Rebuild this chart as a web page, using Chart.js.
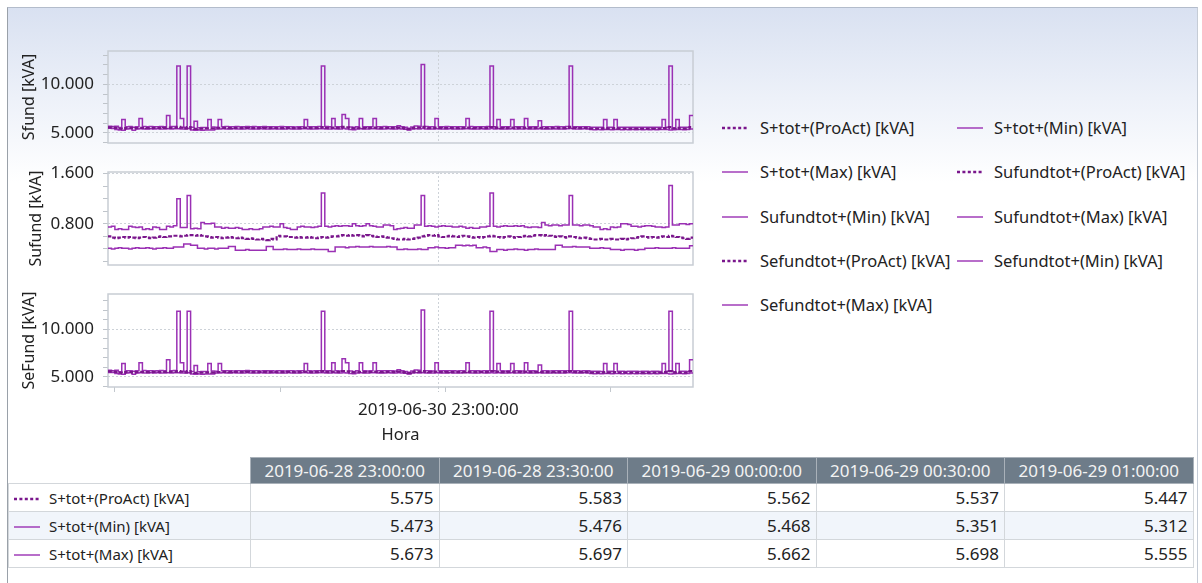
<!DOCTYPE html>
<html lang="es">
<head>
<meta charset="utf-8">
<script src="https://cdn.jsdelivr.net/npm/chart.js"></script>
<style>
    html, body { margin: 0; padding: 0; background: #fff; }
    body { width: 1202px; height: 583px; overflow: hidden; position: relative;
           font-family: "Noto Sans", "Open Sans", sans-serif; color: #222; }
    .frame { position: absolute; left: 7px; top: 7px; width: 1189px; height: 600px;
             border-left: 1px solid #9aa1a9; border-top: 1px solid #b3bccb; border-right: 1px solid #c5ccd6;
             background: linear-gradient(#d9e1f1 0px, #edf1f9 90px, #ffffff 175px); }
    canvas { position: absolute; }
    .leg { position: absolute; font-size: 16.5px; line-height: 20px; white-space: nowrap; }
    .leg svg { position: absolute; left: 0; top: 7px; }
    table { position: absolute; left: 8px; top: 457px; border-collapse: collapse; table-layout: fixed;
            font-size: 17px; }
    td, th { height: 27px; padding: 0 5px; border: 1px solid #d3d7db; white-space: nowrap; overflow: hidden; }
    th { background: #6e7c89; color: #f3f3f3; font-weight: normal; height: 25px; border-color: #a9b1b9; }
    th.blank { background: transparent; border: none; }
    td.val { text-align: right; }
    td.name { font-size: 15px; }
    td.name svg { vertical-align: middle; margin-right: 9px; }
    tr.alt td { background: #f1f5fb; }
</style>
</head>
<body>
<div class="frame"></div>
<canvas id="c1" width="690" height="103" style="left:8px; top:45px"></canvas>
<canvas id="c2" width="690" height="104" style="left:8px; top:166px"></canvas>
<canvas id="c3" width="690" height="155" style="left:8px; top:292px"></canvas>
<div id="legend"></div>
<table id="tbl"></table>
<script>
    // half-hour steps from 2019-06-28 23:00:00 (index 0) to index 170
    const dayTicks = [2, 50, 98, 146];
    const labelTicks = [96];
    const labelTexts = ['2019-06-30 23:00:00'];

    const tableTimes = ['2019-06-28 23:00:00', '2019-06-28 23:30:00', '2019-06-29 00:00:00',
                        '2019-06-29 00:30:00', '2019-06-29 01:00:00'];

    const sNames = ['S+tot+(ProAct) [kVA]', 'S+tot+(Min) [kVA]', 'S+tot+(Max) [kVA]'];
    const uNames = ['Sufundtot+(ProAct) [kVA]', 'Sufundtot+(Min) [kVA]', 'Sufundtot+(Max) [kVA]'];
    const eNames = ['Sefundtot+(ProAct) [kVA]', 'Sefundtot+(Min) [kVA]', 'Sefundtot+(Max) [kVA]'];

    // Sfund panel
    const sProAct = [
        5.575, 5.583, 5.562, 5.537, 5.447, 5.42, 5.50, 5.52, 5.46, 5.51,
        5.53, 5.52, 5.50, 5.51, 5.53, 5.52, 5.50, 5.52, 5.55, 5.53,
        5.54, 5.62, 5.56, 5.48, 5.60, 5.44, 5.43, 5.45, 5.44, 5.46,
        5.47, 5.46, 5.50, 5.52, 5.53, 5.52, 5.51, 5.53, 5.52, 5.51,
        5.52, 5.53, 5.52, 5.51, 5.50, 5.52, 5.53, 5.51, 5.52, 5.50,
        5.49, 5.50, 5.51, 5.52, 5.50, 5.49, 5.51, 5.52, 5.55, 5.52,
        5.51, 5.52, 5.53, 5.60, 5.52, 5.51, 5.56, 5.52, 5.50, 5.62,
        5.58, 5.50, 5.47, 5.49, 5.54, 5.51, 5.50, 5.52, 5.55, 5.52,
        5.51, 5.52, 5.53, 5.52, 5.50, 5.56, 5.52, 5.48, 5.40, 5.50,
        5.55, 5.54, 5.62, 5.52, 5.51, 5.50, 5.55, 5.52, 5.50, 5.51,
        5.52, 5.51, 5.50, 5.52, 5.51, 5.55, 5.52, 5.51, 5.50, 5.52,
        5.51, 5.52, 5.60, 5.52, 5.55, 5.51, 5.50, 5.52, 5.55, 5.51,
        5.52, 5.50, 5.55, 5.51, 5.50, 5.52, 5.54, 5.51, 5.50, 5.52,
        5.51, 5.52, 5.50, 5.51, 5.52, 5.62, 5.52, 5.51, 5.50, 5.52,
        5.51, 5.45, 5.44, 5.45, 5.44, 5.50, 5.45, 5.44, 5.50, 5.45,
        5.44, 5.45, 5.44, 5.45, 5.44, 5.45, 5.44, 5.45, 5.44, 5.45,
        5.44, 5.45, 5.50, 5.47, 5.60, 5.46, 5.52, 5.45, 5.44, 5.46,
        5.60];
    const sMin = [
        5.473, 5.476, 5.468, 5.351, 5.312, 5.28, 5.42, 5.44, 5.29, 5.42,
        5.43, 5.42, 5.41, 5.43, 5.42, 5.44, 5.41, 5.42, 5.43, 5.42,
        5.43, 5.44, 5.42, 5.40, 5.45, 5.30, 5.29, 5.30, 5.29, 5.30,
        5.31, 5.30, 5.40, 5.42, 5.43, 5.42, 5.41, 5.43, 5.42, 5.41,
        5.42, 5.43, 5.42, 5.41, 5.42, 5.43, 5.42, 5.41, 5.42, 5.43,
        5.42, 5.41, 5.42, 5.43, 5.42, 5.41, 5.42, 5.43, 5.44, 5.42,
        5.41, 5.42, 5.43, 5.44, 5.42, 5.41, 5.43, 5.42, 5.40, 5.45,
        5.42, 5.36, 5.33, 5.40, 5.43, 5.42, 5.41, 5.43, 5.44, 5.42,
        5.41, 5.42, 5.43, 5.42, 5.41, 5.44, 5.42, 5.38, 5.30, 5.40,
        5.43, 5.42, 5.45, 5.42, 5.41, 5.40, 5.44, 5.42, 5.41, 5.42,
        5.43, 5.42, 5.41, 5.42, 5.43, 5.44, 5.42, 5.41, 5.42, 5.43,
        5.42, 5.41, 5.45, 5.42, 5.44, 5.42, 5.41, 5.42, 5.44, 5.42,
        5.41, 5.42, 5.44, 5.42, 5.41, 5.42, 5.43, 5.42, 5.41, 5.42,
        5.43, 5.42, 5.41, 5.42, 5.43, 5.45, 5.42, 5.41, 5.42, 5.43,
        5.42, 5.35, 5.34, 5.35, 5.34, 5.36, 5.35, 5.34, 5.36, 5.35,
        5.34, 5.35, 5.34, 5.35, 5.34, 5.35, 5.34, 5.35, 5.34, 5.35,
        5.34, 5.35, 5.36, 5.35, 5.30, 5.34, 5.36, 5.35, 5.34, 5.35,
        5.40];
    const sMax = [
        5.673, 5.697, 5.662, 5.698, 5.555, 6.40, 5.64, 5.66, 5.60, 5.65,
        6.50, 5.68, 5.64, 5.66, 5.63, 5.65, 5.67, 5.64, 6.80, 5.66,
        5.68, 11.90, 6.50, 5.60, 11.90, 5.58, 6.20, 5.55, 5.57, 5.56,
        6.40, 5.62, 5.60, 6.40, 5.64, 5.66, 5.65, 5.63, 5.66, 5.64,
        5.65, 5.67, 5.64, 5.66, 5.65, 5.63, 5.66, 5.64, 5.65, 5.63,
        5.64, 5.66, 5.63, 5.65, 5.64, 5.62, 5.64, 5.65, 6.40, 5.64,
        5.63, 5.65, 5.66, 11.90, 5.66, 5.64, 6.50, 5.65, 5.63, 6.90,
        6.50, 5.62, 5.58, 5.64, 6.50, 5.65, 5.63, 5.64, 6.50, 5.65,
        5.64, 5.66, 5.65, 5.64, 5.63, 5.75, 5.64, 5.58, 5.50, 5.62,
        5.72, 5.70, 12.05, 5.66, 5.64, 5.63, 6.50, 5.65, 5.64, 5.66,
        5.65, 5.64, 5.63, 5.65, 5.64, 6.50, 5.66, 5.64, 5.65, 5.63,
        5.64, 5.66, 11.90, 5.64, 6.40, 5.65, 5.63, 5.64, 6.40, 5.65,
        5.64, 5.63, 6.50, 5.65, 5.64, 5.63, 6.25, 5.64, 5.65, 5.63,
        5.64, 5.66, 5.65, 5.64, 5.66, 11.90, 5.65, 5.64, 5.63, 5.65,
        5.64, 5.60, 5.59, 5.60, 5.58, 6.40, 5.59, 5.60, 6.40, 5.59,
        5.60, 5.58, 5.60, 5.59, 5.60, 5.58, 5.59, 5.60, 5.58, 5.59,
        5.60, 5.58, 6.40, 5.60, 11.90, 5.55, 6.40, 5.59, 5.60, 5.58,
        6.80];

    // Sufund panel
    const uProAct = [
        0.59, 0.60, 0.58, 0.57, 0.58, 0.59, 0.58, 0.59, 0.58, 0.57,
        0.58, 0.59, 0.58, 0.57, 0.58, 0.59, 0.60, 0.59, 0.60, 0.60,
        0.61, 0.61, 0.60, 0.61, 0.62, 0.62, 0.61, 0.62, 0.61, 0.60,
        0.59, 0.58, 0.59, 0.58, 0.57, 0.58, 0.59, 0.58, 0.57, 0.58,
        0.57, 0.56, 0.57, 0.56, 0.55, 0.56, 0.55, 0.54, 0.56, 0.55,
        0.61, 0.60, 0.60, 0.59, 0.59, 0.58, 0.59, 0.58, 0.58, 0.59,
        0.58, 0.57, 0.58, 0.59, 0.58, 0.59, 0.60, 0.60, 0.61, 0.62,
        0.61, 0.62, 0.61, 0.62, 0.61, 0.60, 0.62, 0.61, 0.60, 0.59,
        0.60, 0.59, 0.58, 0.57, 0.56, 0.55, 0.55, 0.56, 0.55, 0.56,
        0.57, 0.58, 0.60, 0.61, 0.62, 0.61, 0.62, 0.60, 0.59, 0.60,
        0.61, 0.60, 0.59, 0.60, 0.61, 0.60, 0.59, 0.58, 0.59, 0.58,
        0.59, 0.60, 0.61, 0.60, 0.59, 0.58, 0.59, 0.60, 0.59, 0.58,
        0.59, 0.60, 0.61, 0.60, 0.61, 0.62, 0.62, 0.61, 0.62, 0.61,
        0.60, 0.59, 0.60, 0.59, 0.58, 0.60, 0.59, 0.58, 0.57, 0.58,
        0.57, 0.56, 0.55, 0.55, 0.56, 0.55, 0.55, 0.56, 0.55, 0.55,
        0.56, 0.55, 0.56, 0.57, 0.58, 0.59, 0.60, 0.59, 0.58, 0.59,
        0.58, 0.59, 0.60, 0.59, 0.61, 0.60, 0.59, 0.58, 0.57, 0.56,
        0.58];
    const uMin = [
        0.41, 0.41, 0.40, 0.41, 0.42, 0.41, 0.41, 0.40, 0.41, 0.42,
        0.41, 0.41, 0.42, 0.41, 0.40, 0.41, 0.41, 0.42, 0.41, 0.41,
        0.43, 0.43, 0.43, 0.48, 0.48, 0.46, 0.46, 0.41, 0.41, 0.40,
        0.41, 0.41, 0.40, 0.41, 0.41, 0.41, 0.44, 0.44, 0.38, 0.38,
        0.38, 0.39, 0.38, 0.38, 0.38, 0.38, 0.38, 0.44, 0.44, 0.39,
        0.39, 0.39, 0.40, 0.39, 0.39, 0.39, 0.40, 0.39, 0.39, 0.39,
        0.40, 0.39, 0.39, 0.39, 0.39, 0.36, 0.36, 0.43, 0.43, 0.43,
        0.42, 0.43, 0.43, 0.44, 0.43, 0.43, 0.43, 0.44, 0.43, 0.43,
        0.43, 0.43, 0.44, 0.43, 0.43, 0.39, 0.39, 0.40, 0.39, 0.39,
        0.39, 0.40, 0.39, 0.39, 0.42, 0.42, 0.43, 0.42, 0.42, 0.41,
        0.42, 0.42, 0.46, 0.46, 0.45, 0.46, 0.45, 0.46, 0.42, 0.42,
        0.43, 0.42, 0.36, 0.36, 0.39, 0.39, 0.38, 0.39, 0.39, 0.40,
        0.39, 0.39, 0.38, 0.39, 0.39, 0.40, 0.39, 0.39, 0.39, 0.39,
        0.39, 0.46, 0.46, 0.43, 0.43, 0.43, 0.44, 0.43, 0.43, 0.43,
        0.43, 0.41, 0.41, 0.41, 0.42, 0.41, 0.41, 0.39, 0.39, 0.39,
        0.38, 0.39, 0.39, 0.39, 0.38, 0.39, 0.39, 0.41, 0.41, 0.41,
        0.42, 0.41, 0.41, 0.41, 0.41, 0.42, 0.41, 0.41, 0.41, 0.41,
        0.45];
    const uMax = [
        0.75, 0.75, 0.76, 0.71, 0.72, 0.71, 0.71, 0.76, 0.75, 0.74,
        0.75, 0.71, 0.72, 0.71, 0.75, 0.74, 0.71, 0.71, 0.76, 0.75,
        0.77, 1.20, 0.74, 0.74, 1.25, 0.72, 0.73, 0.72, 0.82, 0.80,
        0.80, 0.81, 0.75, 0.75, 0.73, 0.74, 0.73, 0.73, 0.74, 0.73,
        0.71, 0.71, 0.72, 0.71, 0.71, 0.72, 0.75, 0.75, 0.76, 0.75,
        0.75, 0.80, 0.74, 0.73, 0.71, 0.71, 0.75, 0.76, 0.75, 0.75,
        0.74, 0.75, 0.76, 1.29, 0.76, 0.75, 0.76, 0.77, 0.76, 0.77,
        0.77, 0.76, 0.80, 0.77, 0.76, 0.77, 0.80, 0.77, 0.76, 0.75,
        0.75, 0.78, 0.78, 0.77, 0.71, 0.72, 0.73, 0.74, 0.73, 0.73,
        0.78, 0.78, 1.25, 0.76, 0.77, 0.76, 0.75, 0.76, 0.77, 0.76,
        0.76, 0.75, 0.75, 0.76, 0.75, 0.73, 0.74, 0.73, 0.73, 0.75,
        0.75, 0.76, 1.29, 0.76, 0.75, 0.76, 0.77, 0.76, 0.76, 0.77,
        0.76, 0.77, 0.75, 0.74, 0.75, 0.75, 0.74, 0.82, 0.78, 0.77,
        0.78, 0.78, 0.77, 0.78, 0.78, 1.25, 0.78, 0.78, 0.77, 0.78,
        0.78, 0.77, 0.75, 0.75, 0.71, 0.72, 0.71, 0.75, 0.74, 0.75,
        0.80, 0.80, 0.79, 0.76, 0.76, 0.75, 0.76, 0.77, 0.77, 0.76,
        0.75, 0.75, 0.74, 0.75, 1.41, 0.78, 0.78, 0.80, 0.80, 0.79,
        0.80];

    // SeFund panel reads the same as the Sfund panel
    const eProAct = sProAct;
    const eMin = sMin;
    const eMax = sMax;

    const xIdx = sMax.map((v, i) => i);
    const xTicks = dayTicks.concat(labelTicks).sort((a, b) => a - b);

    const lineCol = '#9a30b4';
    const proCol = '#7a168c';
    const font17 = { family: '"Noto Sans"', size: 17 };
    const font16 = { family: '"Noto Sans"', size: 16 };

    const frame = {
        id: 'frame',
        beforeDatasetsDraw(chart) {
            const { ctx, chartArea: a } = chart;
            ctx.save();
            ctx.strokeStyle = '#c8cdd4';
            ctx.lineWidth = 1.5;
            ctx.strokeRect(a.left, a.top, a.right - a.left, a.bottom - a.top);
            ctx.restore();
        }
    };

    function panel(id, series, names, yMin, yMax, yTicks, yLabels, title, titlePad, padTop, bottom) {
        return new Chart(document.getElementById(id), {
            type: 'line',
            data: {
                labels: xIdx,
                datasets: [
                    { label: names[0], data: series[0], borderColor: proCol, borderWidth: 2.2, borderDash: [4, 2], stepped: 'after', fill: false },
                    { label: names[1], data: series[1], borderColor: lineCol, borderWidth: 1.5, stepped: 'after', fill: false },
                    { label: names[2], data: series[2], borderColor: lineCol, borderWidth: 1.5, stepped: 'after', fill: false }
                ]
            },
            options: {
                responsive: false,
                animation: false,
                layout: { padding: { left: 0, right: 5, top: padTop, bottom: bottom ? 0 : 5 } },
                elements: { point: { radius: 0 }, line: { tension: 0 } },
                plugins: { legend: { display: false }, tooltip: { enabled: false } },
                scales: {
                    x: {
                        type: 'linear', min: 0, max: 170,
                        afterBuildTicks: s => { s.ticks = xTicks.map(v => ({ value: v })); },
                        afterFit: s => { s.height = bottom ? 60 : 0; s.paddingLeft = 0; s.paddingRight = 0; },
                        ticks: {
                            display: bottom, autoSkip: false, maxRotation: 0, padding: 8,
                            color: '#222', font: font17,
                            callback: v => { const k = labelTicks.indexOf(v); return k >= 0 ? labelTexts[k] : ''; }
                        },
                        grid: {
                            color: c => (c.tick && labelTicks.includes(c.tick.value)) ? '#cdd2d8' : 'rgba(0,0,0,0)',
                            drawTicks: bottom, tickLength: 5,
                            tickColor: '#c3c8ce',
                            tickBorderDash: c => (c.tick && labelTicks.includes(c.tick.value)) ? [2, 2] : []
                        },
                        border: { display: false, dash: [2, 2] },
                        title: { display: bottom, text: 'Hora', color: '#222', font: { family: '"Noto Sans"', size: 16.5 }, padding: { top: 0, bottom: 2 } }
                    },
                    y: {
                        min: yMin, max: yMax,
                        afterBuildTicks: s => { s.ticks = yTicks.map(v => ({ value: v })); },
                        afterFit: s => { s.width = 100; s.paddingTop = 0; s.paddingBottom = 0; },
                        ticks: {
                            autoSkip: false, padding: 9, color: '#222', font: font17,
                            callback: v => yLabels.includes(v) ? v.toFixed(3) : ''
                        },
                        grid: {
                            color: c => (c.tick && yLabels.includes(c.tick.value)) ? '#cdd2d8' : 'rgba(0,0,0,0)',
                            tickLength: 5, tickColor: '#bfc4ca'
                        },
                        border: { display: false, dash: [2, 2] },
                        title: { display: true, text: title, color: '#222', font: font16, padding: { top: titlePad, bottom: 0 } }
                    }
                }
            },
            plugins: [frame]
        });
    }

    panel('c1', [sProAct, sMin, sMax], sNames, 3.97, 13.44, [4, 5, 6, 7, 8, 9, 10, 11, 12, 13], [5, 10], 'Sfund [kVA]', 11.5, 6, false);
    panel('c2', [uProAct, uMin, uMax], uNames, 0.144, 1.625, [0.2, 0.4, 0.6, 0.8, 1.0, 1.2, 1.4, 1.6], [0.8, 1.6], 'Sufund [kVA]', 18.5, 6, false);
    panel('c3', [eProAct, eMin, eMax], eNames, 3.94, 13.72, [4, 5, 6, 7, 8, 9, 10, 11, 12, 13], [5, 10], 'SeFund [kVA]', 11.5, 2, true);

    // legend (two columns)
    function sample(dotted) {
        return dotted
            ? '<svg width="26" height="6"><line x1="0" y1="3" x2="26" y2="3" stroke="' + proCol + '" stroke-width="2.6" stroke-dasharray="3 2.4"/></svg>'
            : '<svg width="26" height="6"><line x1="0" y1="3" x2="26" y2="3" stroke="' + lineCol + '" stroke-width="1.4"/></svg>';
    }
    const legendNames = sNames.concat(uNames, eNames);
    const legendEl = document.getElementById('legend');
    legendNames.forEach((n, i) => {
        const col = i % 2, row = Math.floor(i / 2);
        const d = document.createElement('div');
        d.className = 'leg';
        d.style.left = (col ? 957 : 722) + 'px';
        d.style.top = Math.round(118 + row * 44.3) + 'px';
        d.innerHTML = sample(n.indexOf('ProAct') >= 0) +
            '<span style="position:absolute; left:' + (col ? 37 : 38) + 'px">' + n + '</span>';
        legendEl.appendChild(d);
    });

    // table of the first five S+tot+ values
    const tbl = document.getElementById('tbl');
    let html = '<colgroup><col style="width:242px">' + tableTimes.map(() => '<col style="width:188.5px">').join('') + '</colgroup>';
    html += '<tr><th class="blank"></th>' + tableTimes.map(t => '<th>' + t + '</th>').join('') + '</tr>';
    [sProAct, sMin, sMax].forEach((arr, r) => {
        html += '<tr' + (r === 1 ? ' class="alt"' : '') + '><td class="name">' + sample(r === 0) + sNames[r] + '</td>' +
            tableTimes.map((t, i) => '<td class="val">' + arr[i].toFixed(3) + '</td>').join('') + '</tr>';
    });
    tbl.innerHTML = html;
</script>
</body>
</html>
